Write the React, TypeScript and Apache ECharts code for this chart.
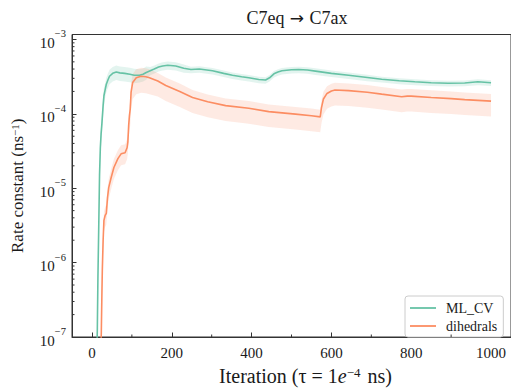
import React, { useEffect, useRef } from "react";
import * as echarts from "echarts";

const FONT = '"Liberation Serif", "DejaVu Serif", serif';
const GREEN = "#66c2a5";
const ORANGE = "#fc8d62";
const INK = "#1a1a1a";

// ---- data (iteration, rate constant in ns^-1) ----
const mlcvIter = [
  12, 13.5, 15, 17, 19, 21, 23, 25, 28, 30,
  33, 36, 40, 44, 52, 61, 70, 82, 95, 106,
  119, 128, 136, 146, 156, 167, 177, 190, 210, 230,
  248, 269, 302, 330, 352, 375, 393, 418, 435, 445,
  456, 466, 476, 500, 518, 540, 560, 600, 643, 690,
  726, 770, 809, 850, 892, 934, 967, 1000,
];
const mlcvRate = [
  5e-8, 1.3e-7, 6.6e-7, 3e-6, 1.5e-5, 3.5e-5, 5.5e-5, 7.5e-5, 1.3e-4, 1.75e-4,
  2.1e-4, 2.5e-4, 2.85e-4, 3.2e-4, 3.5e-4, 3.65e-4, 3.55e-4, 3.5e-4, 3.4e-4, 3.3e-4,
  3.3e-4, 3.4e-4, 3.6e-4, 3.8e-4, 4.0e-4, 4.25e-4, 4.4e-4, 4.5e-4, 4.4e-4, 4.1e-4,
  3.95e-4, 4.0e-4, 3.8e-4, 3.5e-4, 3.3e-4, 3.15e-4, 3.05e-4, 2.9e-4, 2.85e-4, 3.05e-4,
  3.45e-4, 3.65e-4, 3.8e-4, 3.92e-4, 3.95e-4, 3.88e-4, 3.75e-4, 3.5e-4, 3.3e-4, 3.08e-4,
  2.92e-4, 2.78e-4, 2.7e-4, 2.62e-4, 2.58e-4, 2.6e-4, 2.7e-4, 2.62e-4,
];
// relative width of the shaded band above / below the line
const mlcvUp = [
  0.3, 0.3, 0.3, 0.3, 0.3, 0.3, 0.3, 0.3, 0.3, 0.3,
  0.22, 0.22, 0.22, 0.22, 0.22, 0.22, 0.22, 0.22, 0.22, 0.22,
  0.2, 0.2, 0.2, 0.12, 0.12, 0.12, 0.12, 0.12, 0.12, 0.12,
  0.09, 0.09, 0.09, 0.09, 0.09, 0.09, 0.09, 0.09, 0.09, 0.09,
  0.09, 0.09, 0.09, 0.09, 0.09, 0.09, 0.09, 0.09, 0.09, 0.09,
  0.08, 0.08, 0.08, 0.08, 0.08, 0.08, 0.08, 0.08,
];
const mlcvDown = [
  0.3, 0.3, 0.3, 0.3, 0.3, 0.3, 0.3, 0.3, 0.3, 0.3,
  0.22, 0.22, 0.22, 0.22, 0.22, 0.22, 0.22, 0.22, 0.22, 0.22,
  0.2, 0.2, 0.2, 0.13, 0.13, 0.13, 0.13, 0.13, 0.13, 0.13,
  0.11, 0.11, 0.11, 0.11, 0.11, 0.11, 0.11, 0.11, 0.11, 0.11,
  0.11, 0.11, 0.11, 0.11, 0.11, 0.11, 0.11, 0.11, 0.11, 0.11,
  0.1, 0.1, 0.1, 0.1, 0.1, 0.1, 0.1, 0.1,
];

const dihIter = [
  22, 23.5, 25, 26, 28, 30, 33, 36, 39, 42,
  48, 55, 65, 73, 83, 88, 90, 92, 94, 96,
  98, 102, 111, 123, 135, 144, 165, 185, 220, 252,
  290, 335, 393, 443, 510, 550, 572, 575, 580, 589,
  600, 609, 643, 690, 726, 776, 790, 800, 850, 900,
  934, 1000,
];
const dihRate = [
  5e-8, 1.2e-7, 4e-7, 8e-7, 2e-6, 3.7e-6, 4.3e-6, 4.6e-6, 7.5e-6, 1.02e-5,
  1.38e-5, 1.9e-5, 2.5e-5, 2.9e-5, 3.0e-5, 3.5e-5, 4.2e-5, 7e-5, 9.5e-5, 1.17e-4,
  1.94e-4, 2.63e-4, 3.06e-4, 3.2e-4, 3.15e-4, 3.06e-4, 2.76e-4, 2.4e-4, 2.0e-4, 1.66e-4,
  1.45e-4, 1.29e-4, 1.19e-4, 1.07e-4, 9.9e-5, 9.4e-5, 9.1e-5, 1.2e-4, 1.58e-4, 1.88e-4,
  2.03e-4, 2.09e-4, 2.05e-4, 1.95e-4, 1.84e-4, 1.7e-4, 1.73e-4, 1.73e-4, 1.66e-4, 1.6e-4,
  1.55e-4, 1.48e-4,
];
const dihUp = [
  0.3, 0.3, 0.3, 0.3, 0.3, 0.3, 0.3, 0.3, 0.3, 0.3,
  0.3, 0.3, 0.3, 0.3, 0.3, 0.3, 0.3, 0.3, 0.3, 0.3,
  0.3, 0.3, 0.3, 0.3, 0.3, 0.3, 0.28, 0.28, 0.28, 0.26,
  0.25, 0.25, 0.25, 0.25, 0.25, 0.25, 0.25, 0.25, 0.25, 0.25,
  0.25, 0.25, 0.25, 0.25, 0.25, 0.25, 0.25, 0.25, 0.25, 0.25,
  0.25, 0.25,
];
const dihDown = [
  0.3, 0.3, 0.3, 0.3, 0.3, 0.3, 0.3, 0.3, 0.3, 0.3,
  0.3, 0.3, 0.3, 0.3, 0.3, 0.3, 0.3, 0.35, 0.38, 0.4,
  0.4, 0.4, 0.4, 0.4, 0.4, 0.4, 0.38, 0.38, 0.38, 0.38,
  0.38, 0.38, 0.38, 0.38, 0.38, 0.38, 0.38, 0.38, 0.38, 0.38,
  0.38, 0.38, 0.38, 0.38, 0.38, 0.38, 0.38, 0.38, 0.38, 0.38,
  0.38, 0.38,
];

// ---- axes ----
const X_MIN = -50;
const X_MAX = 1050;
const Y_MIN = 1e-7;
const Y_MAX = 1.165e-3;
const xMajorTicks = [0, 200, 400, 600, 800, 1000];
const xMinorTicks = [100, 300, 500, 700, 900];
const yMajorTicks = [1e-7, 1e-6, 1e-5, 1e-4, 1e-3];
const yMinorMultipliers = [2, 3, 4, 5, 6, 7, 8, 9];

const seriesNames = ["ML_CV", "dihedrals"];

function bandSeries(iter: number[], rate: number[], up: number[], down: number[], fill: string) {
  return {
    type: "custom",
    silent: true,
    clip: true,
    z: 1,
    data: [[500, 1e-5]],
    renderItem: (_params: any, api: any) => {
      const upper = iter.map((x, i) => api.coord([x, rate[i] * (1 + up[i])]));
      const lower = iter.map((x, i) => api.coord([x, rate[i] * (1 - down[i])])).reverse();
      return {
        type: "polygon",
        shape: { points: upper.concat(lower) },
        style: { fill, stroke: null },
      };
    },
  };
}

export default function App() {
  const ref = useRef<HTMLDivElement>(null);

  useEffect(() => {
    if (!ref.current) return;
    const chart = echarts.init(ref.current, undefined, { renderer: "svg" });

    const yMinor: number[] = [];
    yMajorTicks.forEach((d) => {
      yMinorMultipliers.forEach((m) => {
        const v = d * m;
        if (v < Y_MAX) yMinor.push(v);
      });
    });

    const option: any = {
      animation: false,
      backgroundColor: "#ffffff",
      textStyle: { fontFamily: FONT },
      title: {
        text: "C7eq{arr|\u00a0→\u00a0}C7ax",
        left: 292,
        textAlign: "center",
        top: 4,
        textStyle: {
          fontFamily: FONT,
          fontSize: 18,
          fontWeight: "normal",
          color: INK,
          rich: {
            arr: { fontFamily: '"DejaVu Sans", sans-serif', fontSize: 17, color: INK },
          },
        },
      },
      grid: {
        left: 72,
        top: 34.5,
        width: 440,
        height: 307.2,
        show: true,
        borderColor: "#333",
        borderWidth: 1,
        backgroundColor: "transparent",
      },
      legend: {
        data: seriesNames,
        orient: "vertical",
        left: 405,
        top: 296,
        padding: [5, 6, 4, 5],
        icon: "rect",
        itemWidth: 26,
        itemHeight: 1.8,
        itemGap: 4,
        backgroundColor: "#ffffff",
        borderColor: "#cccccc",
        borderWidth: 1,
        borderRadius: 3,
        textStyle: { fontFamily: FONT, fontSize: 14, color: INK, padding: [0, 0, 0, 5], lineHeight: 12 },
      },
      xAxis: {
        type: "value",
        min: X_MIN,
        max: X_MAX,
        name: "Iteration (τ = 1{it|e}{sup|−4} ns)",
        nameLocation: "middle",
        nameGap: 29,
        nameTextStyle: {
          fontFamily: FONT,
          fontSize: 20,
          color: INK,
          padding: [0, 0, 0, 28],
          rich: {
            it: { fontFamily: FONT, fontSize: 20, fontStyle: "italic", color: INK },
            sup: { fontFamily: FONT, fontSize: 13, color: INK, verticalAlign: "top", padding: [0, 2, 0, 0] },
          },
        },
        axisLine: { show: true, onZero: false, lineStyle: { color: "#333", width: 1 } },
        axisTick: {
          show: true,
          inside: true,
          length: 4.5,
          customValues: xMajorTicks,
          lineStyle: { color: "#333", width: 1 },
        },
        axisLabel: {
          show: true,
          customValues: xMajorTicks,
          margin: 8,
          fontFamily: FONT,
          fontSize: 15,
          color: INK,
          formatter: (v: number) => (xMajorTicks.indexOf(v) >= 0 ? String(v) : ""),
        },
        splitLine: { show: false },
      },
      yAxis: {
        type: "log",
        logBase: 10,
        min: Y_MIN,
        max: Y_MAX,
        name: "Rate constant (ns{sup|−1})",
        nameLocation: "middle",
        nameRotate: 90,
        nameGap: 46,
        nameTextStyle: {
          fontFamily: FONT,
          fontSize: 17,
          color: INK,
          rich: {
            sup: { fontFamily: FONT, fontSize: 11, color: INK, verticalAlign: "top" },
          },
        },
        axisLine: { show: true, onZero: false, lineStyle: { color: "#333", width: 1 } },
        axisTick: {
          show: true,
          inside: true,
          length: 4.5,
          customValues: yMajorTicks,
          lineStyle: { color: "#333", width: 1 },
        },
        axisLabel: {
          show: true,
          customValues: yMajorTicks,
          margin: 6,
          fontFamily: FONT,
          color: INK,
          formatter: (v: number) => {
            const e = Math.log10(v);
            const r = Math.round(e);
            if (Math.abs(e - r) > 0.01) return "";
            return "{base|10}{sup|−" + String(-r) + "}";
          },
          rich: {
            base: { fontFamily: FONT, fontSize: 15, color: INK, lineHeight: 22, verticalAlign: "bottom" },
            sup: { fontFamily: FONT, fontSize: 10.5, color: INK, lineHeight: 12, verticalAlign: "top" },
          },
        },
        splitLine: { show: false },
      },
      series: [
        bandSeries(mlcvIter, mlcvRate, mlcvUp, mlcvDown, "rgba(102,194,165,0.18)"),
        bandSeries(dihIter, dihRate, dihUp, dihDown, "rgba(252,141,98,0.18)"),
        {
          name: seriesNames[0],
          type: "line",
          data: mlcvIter.map((x, i) => [x, mlcvRate[i]]),
          symbol: "none",
          showSymbol: false,
          clip: true,
          z: 3,
          color: GREEN,
          lineStyle: { color: GREEN, width: 1.6 },
        },
        {
          name: seriesNames[1],
          type: "line",
          data: dihIter.map((x, i) => [x, dihRate[i]]),
          symbol: "none",
          showSymbol: false,
          clip: true,
          z: 3,
          color: ORANGE,
          lineStyle: { color: ORANGE, width: 1.6 },
        },
        {
          type: "custom",
          silent: true,
          clip: false,
          z: 5,
          data: xMinorTicks.map((v) => [v, Y_MIN]),
          renderItem: (_p: any, api: any) => {
            const p = api.coord([api.value(0), Y_MIN]);
            return {
              type: "line",
              shape: { x1: p[0], y1: p[1], x2: p[0], y2: p[1] - 2.5 },
              style: { stroke: "#333", lineWidth: 1 },
            };
          },
        },
        {
          type: "custom",
          silent: true,
          clip: false,
          z: 5,
          data: yMinor.map((v) => [X_MIN, v]),
          renderItem: (_p: any, api: any) => {
            const p = api.coord([X_MIN, api.value(1)]);
            return {
              type: "line",
              shape: { x1: p[0], y1: p[1], x2: p[0] + 2.5, y2: p[1] },
              style: { stroke: "#333", lineWidth: 1 },
            };
          },
        },
      ],
    };

    chart.setOption(option);
    return () => chart.dispose();
  }, []);

  return (
    <div
      ref={ref}
      style={{ position: "fixed", left: 0, top: 0, width: 511, height: 391, background: "#fff" }}
    />
  );
}
